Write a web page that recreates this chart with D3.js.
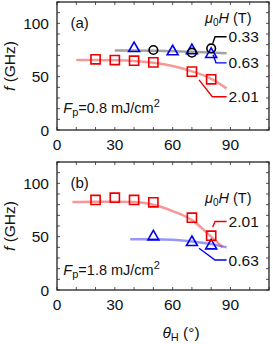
<!DOCTYPE html>
<html>
<head>
<meta charset="utf-8">
<script src="https://cdn.jsdelivr.net/npm/d3@7"></script>
<style>
  body { margin: 0; background: #fff; }
  svg text { font-family: "Liberation Sans", Arial, Helvetica, sans-serif; fill: #111; }
</style>
</head>
<body>
<div id="chart"></div>
<script>
// ---- data ----
var xTicks = [0, 30, 60, 90];
var yTicks = [0, 50, 100];

// panel (a), Fp = 0.8 mJ/cm2
var aRedX = [20, 30, 40, 50, 70, 80];
var aRedY = [66.3, 65.6, 65, 63.4, 54.7, 47.5];
var aRedFitX = [10, 20, 30, 40, 50, 60, 70, 80, 88];
var aRedFitY = [65.6, 65.6, 65.4, 64.8, 63, 60, 55, 48, 39];
var aBlackX = [50, 70, 80];
var aBlackY = [75, 72.5, 76.5];
var aBlackFitX = [30, 50, 70, 88];
var aBlackFitY = [74.5, 74.3, 73.3, 72];
var aBlueX = [40, 60, 70, 80];
var aBlueY = [76.5, 73.5, 74.5, 71];

// panel (b), Fp = 1.8 mJ/cm2
var bRedX = [20, 30, 40, 50, 70, 80];
var bRedY = [84.4, 86.5, 84.4, 82.2, 67.8, 50.9];
var bRedFitX = [8, 20, 30, 40, 50, 60, 70, 80, 86];
var bRedFitY = [82.5, 82.8, 82.8, 82.5, 80, 74, 65.5, 50, 40];
var bBlueX = [50, 70, 80];
var bBlueY = [50, 44.7, 41.5];
var bBlueFitX = [38, 50, 60, 70, 80, 88];
var bBlueFitY = [47.5, 47.5, 47, 45.5, 43, 40];

var width = 273, height = 344;
var svg = d3.select("#chart").append("svg")
    .attr("width", width)
    .attr("height", height);

var x = d3.scaleLinear().domain([0, 110]).range([57, 269]);

var zip = function(xs, ys) {
    return xs.map(function(d, i) { return [d, ys[i]]; });
};

var drawPanel = function(p) {
    var y = d3.scaleLinear().domain([0, 120]).range([p.bottom, p.bottom - 128]);
    var g = svg.append("g");

    // ticks on all four sides, inward
    var tickLen = 3;
    var yMinor = d3.range(0, 121, 10), xMinor = d3.range(0, 111, 10);
    g.append("g").selectAll("line.yl").data(yMinor).enter().append("line")
        .attr("x1", x(0)).attr("x2", x(0) + tickLen)
        .attr("y1", function(d) { return y(d); }).attr("y2", function(d) { return y(d); })
        .attr("stroke", "#555").attr("stroke-width", 1);
    g.append("g").selectAll("line.yr").data(yMinor).enter().append("line")
        .attr("x1", x(110)).attr("x2", x(110) - tickLen)
        .attr("y1", function(d) { return y(d); }).attr("y2", function(d) { return y(d); })
        .attr("stroke", "#555").attr("stroke-width", 1);
    g.append("g").selectAll("line.xb").data(xMinor).enter().append("line")
        .attr("y1", y(0)).attr("y2", y(0) - tickLen)
        .attr("x1", function(d) { return x(d); }).attr("x2", function(d) { return x(d); })
        .attr("stroke", "#555").attr("stroke-width", 1);
    g.append("g").selectAll("line.xt").data(xMinor).enter().append("line")
        .attr("y1", y(120)).attr("y2", y(120) + tickLen)
        .attr("x1", function(d) { return x(d); }).attr("x2", function(d) { return x(d); })
        .attr("stroke", "#555").attr("stroke-width", 1);

    // frame
    g.append("rect")
        .attr("x", x(0)).attr("y", y(120))
        .attr("width", x(110) - x(0)).attr("height", y(0) - y(120))
        .attr("fill", "none").attr("stroke", "#222").attr("stroke-width", 1.3);

    // tick labels
    g.selectAll("text.yt").data(yTicks).enter().append("text")
        .attr("x", x(0) - 8).attr("y", function(d) { return y(d); })
        .attr("dy", "0.36em").attr("text-anchor", "end")
        .style("font-size", "15.5px").text(function(d) { return d; });
    g.selectAll("text.xt").data(xTicks).enter().append("text")
        .attr("x", function(d) { return x(d); }).attr("y", y(0) + 20)
        .attr("text-anchor", "middle")
        .style("font-size", "15.5px").text(function(d) { return d; });

    // y title
    var yt = g.append("text")
        .attr("transform", "translate(15," + ((y(0) + y(120)) / 2) + ") rotate(-90)")
        .attr("text-anchor", "middle").style("font-size", "15.5px");
    yt.append("tspan").style("font-style", "italic").text("f");
    yt.append("tspan").text(" (GHz)");

    // panel letter
    g.append("text").attr("x", x(7)).attr("y", y(120) + 26)
        .style("font-size", "15px").text(p.letter);

    // fluence
    var ft = g.append("text").attr("x", x(3.3)).attr("y", y(p.fpY))
        .style("font-size", "14.5px");
    ft.append("tspan").style("font-style", "italic").text("F");
    ft.append("tspan").attr("dy", 3).style("font-size", "11px").text("p");
    ft.append("tspan").attr("dy", -3).text("=" + p.fp + " mJ/cm");
    ft.append("tspan").attr("dy", -6).style("font-size", "11px").text("2");

    // legend header
    var lh = g.append("text").attr("x", x(76.8)).attr("y", y(p.muY))
        .attr("dy", "0.36em").style("font-size", "14.5px");
    lh.append("tspan").style("font-style", "italic").text("\u03bc");
    lh.append("tspan").attr("dy", 3).style("font-size", "10px").text("0");
    lh.append("tspan").attr("dy", -3).style("font-style", "italic").text("H");
    lh.append("tspan").text(" (T)");

    var line = d3.line().x(function(d) { return x(d[0]); }).y(function(d) { return y(d[1]); })
        .curve(d3.curveMonotoneX);

    p.fits.forEach(function(f) {
        g.append("path").datum(f.data).attr("d", line)
            .attr("fill", "none").attr("stroke", f.color)
            .attr("stroke-width", 2.5).attr("stroke-opacity", 0.5);
    });

    p.series.forEach(function(s) {
        g.append("g").selectAll("path").data(s.data).enter().append("path")
            .attr("transform", function(d) { return "translate(" + x(d[0]) + "," + y(d[1]) + ")"; })
            .attr("d", d3.symbol().type(s.shape).size(s.size)())
            .attr("fill", "none").attr("stroke", s.color).attr("stroke-width", 1.6);
    });

    // callouts
    var cl = d3.line().x(function(d) { return x(d[0]); }).y(function(d) { return y(d[1]); });
    p.callouts.forEach(function(c) {
        g.append("path").datum(c.pts).attr("d", cl)
            .attr("fill", "none").attr("stroke", c.color).attr("stroke-width", 1.4);
        var last = c.pts[c.pts.length - 1];
        g.append("text").attr("x", x(last[0]) + 2).attr("y", y(last[1]))
            .attr("dy", "0.36em").style("font-size", "15.5px").text(c.label);
    });
};

drawPanel({
    bottom: 130, letter: "(a)", fp: "0.8", fpY: 16, muY: 105.6,
    fits: [
        { data: zip(aBlackFitX, aBlackFitY), color: "#444" },
        { data: zip(aRedFitX, aRedFitY), color: "#f03030" }
    ],
    series: [
        { data: zip(aBlueX, aBlueY), color: "#0000ee", shape: d3.symbolTriangle, size: 52 },
        { data: zip(aBlackX, aBlackY), color: "#000", shape: d3.symbolCircle, size: 58 },
        { data: zip(aRedX, aRedY), color: "#ee0000", shape: d3.symbolSquare, size: 84 }
    ],
    callouts: [
        { pts: [[80.8, 81], [82, 87.4], [88, 87.4]], color: "#000", label: "0.33" },
        { pts: [[81, 70.5], [82.5, 62.9], [88, 62.9]], color: "#0000ee", label: "0.63" },
        { pts: [[73.7, 47], [80.6, 31.2], [88, 31.2]], color: "#ee0000", label: "2.01" }
    ]
});

drawPanel({
    bottom: 290, letter: "(b)", fp: "1.8", fpY: 14, muY: 86.5,
    fits: [
        { data: zip(bRedFitX, bRedFitY), color: "#f03030" },
        { data: zip(bBlueFitX, bBlueFitY), color: "#3030f0" }
    ],
    series: [
        { data: zip(bBlueX, bBlueY), color: "#0000ee", shape: d3.symbolTriangle, size: 52 },
        { data: zip(bRedX, bRedY), color: "#ee0000", shape: d3.symbolSquare, size: 84 }
    ],
    callouts: [
        { pts: [[80.8, 59], [82, 64.2], [88, 64.2]], color: "#ee0000", label: "2.01" },
        { pts: [[73.7, 39.1], [82, 28.1], [88, 28.1]], color: "#0000ee", label: "0.63" }
    ]
});

// x title
var xt = svg.append("text").attr("x", 181).attr("y", 338)
    .attr("text-anchor", "middle").style("font-size", "15.5px");
xt.append("tspan").style("font-style", "italic").text("\u03b8");
xt.append("tspan").attr("dy", 3).style("font-size", "11px").text("H");
xt.append("tspan").attr("dy", -3).text(" (\u00b0)");
</script>
</body>
</html>
